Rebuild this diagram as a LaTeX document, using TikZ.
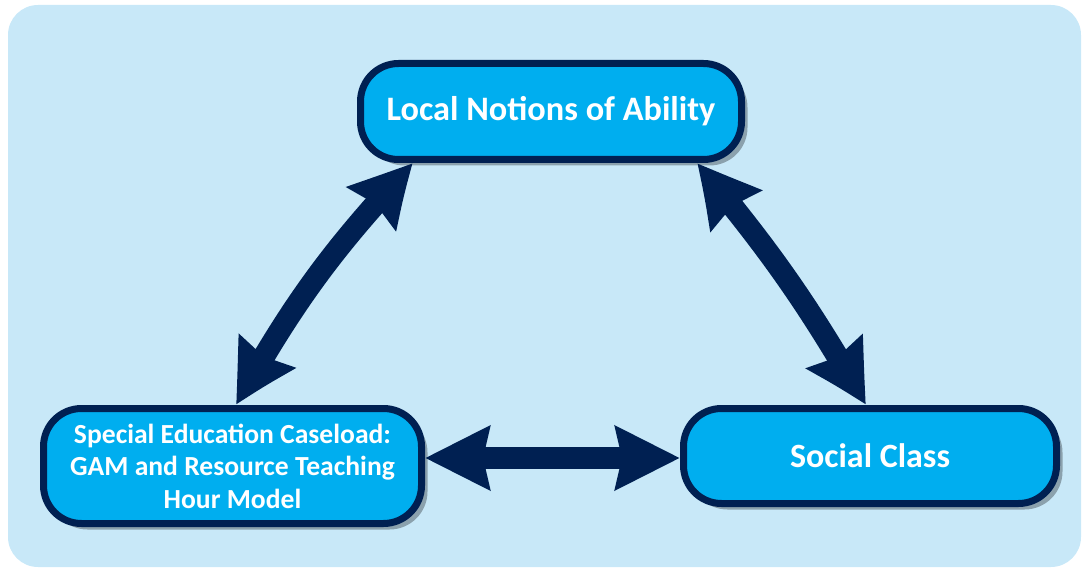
\documentclass[tikz,border=0pt]{standalone}
\usepackage{fontspec}
\setmainfont{Carlito}
\usetikzlibrary{arrows.meta,shadows,bending}
\definecolor{bgblue}{HTML}{C8E8F8}
\definecolor{boxfill}{HTML}{00AEEF}
\definecolor{navy}{HTML}{002052}
\tikzset{
  box/.style={draw=navy, fill=boxfill, line width=7pt, rounded corners=38pt,
    text=white, font=\bfseries, align=center,
    drop shadow={shadow xshift=6pt, shadow yshift=-6pt, opacity=0.3, fill=black}},
  dbl/.style={draw=navy, line width=22pt,
    {Stealth[length=64pt,width=62pt,inset=6pt,bend]}-{Stealth[length=64pt,width=62pt,inset=6pt,bend]}}
}
\begin{document}
\begin{tikzpicture}[x=1pt,y=-1pt]
\useasboundingbox (0,0) rectangle (1082,572);
\fill[bgblue, rounded corners=30pt] (8,5) rectangle (1081,567);
\node[box, minimum width=381pt, minimum height=96pt, font=\bfseries\fontsize{34.3}{40}\selectfont] (top) at (551,111.5) {Local Notions of Ability};
\node[box, minimum width=378pt, minimum height=115pt, font=\bfseries\fontsize{27.6}{32.5}\selectfont] (left) at (232.5,466) {Special Education Caseload:\\GAM and Resource Teaching\\Hour Model};
\node[box, minimum width=373pt, minimum height=95pt, font=\bfseries\fontsize{34}{40}\selectfont] (right) at (870,456) {Social Class};
\draw[dbl] ([xshift=-138pt]top.south) to[bend right=7] ([xshift=3.5pt]left.north);
\draw[dbl] ([xshift=146pt]top.south) to[bend left=5] ([xshift=-4pt]right.north);
\draw[dbl] ([yshift=8pt]left.east) -- ([yshift=-2pt]right.west);
\end{tikzpicture}
\end{document}
